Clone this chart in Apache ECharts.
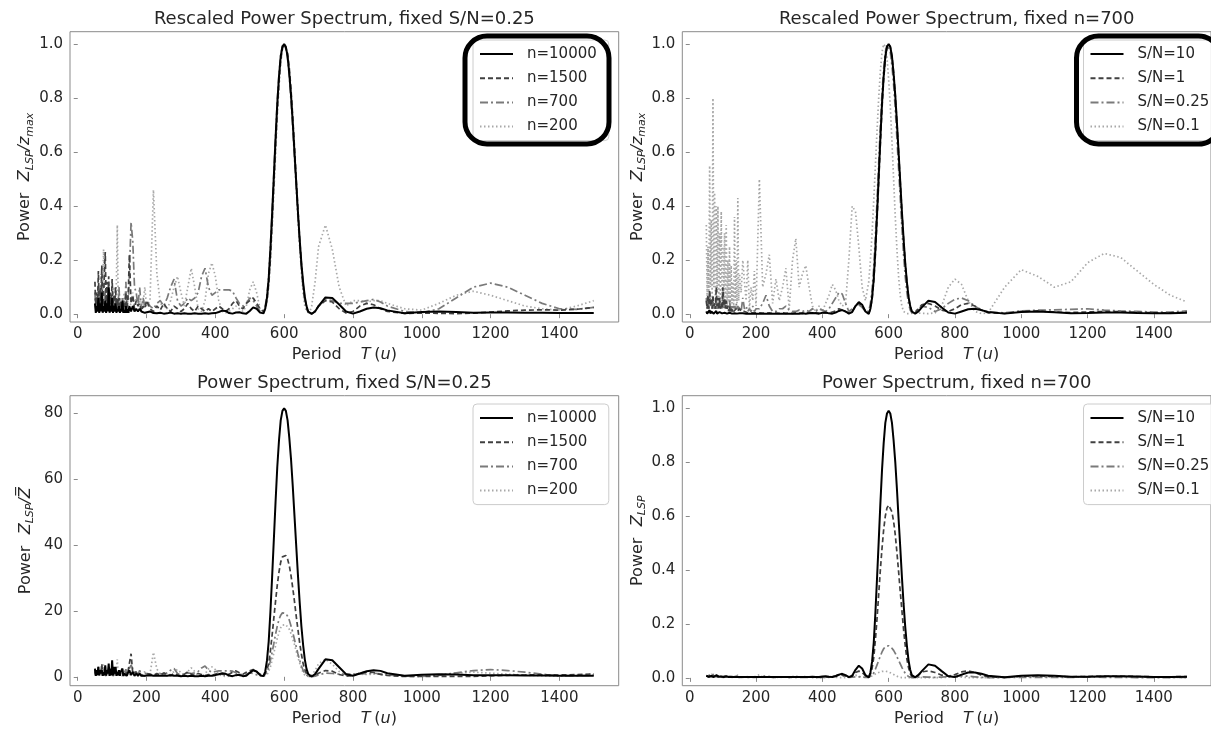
<!DOCTYPE html>
<html><head><meta charset="utf-8">
<script src="https://cdn.jsdelivr.net/npm/echarts@6/dist/echarts.min.js"></script>
<style>html,body{margin:0;padding:0;background:#fff}#c{width:1211px;height:730px}</style>
</head><body><div id="c"></div>
<script>
// ---------- data ----------
const periods = [
 50,52.5,55,57.5,60,62.5,65,67.5,70,72.5,75,77.5,80,82.5,85,87.5,90,92.5,95,97.5,100,102.5,105,107.5,110,112.5,115,117.5,120,122.5,125,127.5,130,132.5,135,137.5,140,142.5,145,147.5,150,
 155,160,165,170,175,180,185,190,195,200,
 210,220,230,240,250,260,270,280,290,300,310,320,330,340,350,360,370,380,390,400,410,420,430,440,450,460,470,480,490,500,
 510,520,530,540,
 545,550,555,560,565,570,575,580,585,590,595,600,605,610,615,620,625,630,635,640,645,650,655,660,665,670,675,
 680,690,700,720,740,760,780,800,820,840,860,880,900,
 950,1000,1050,1100,1150,1200,1250,1300,1350,1400,1450,1500];

const xTicks = [0,200,400,600,800,1000,1200,1400];
const yTicksUnit = [0,0.2,0.4,0.6,0.8,1.0];
const yTicksZbar = [0,20,40,60,80];
const namesN = ['n=10000','n=1500','n=700','n=200'];
const namesSN = ['S/N=10','S/N=1','S/N=0.25','S/N=0.1'];
const titles = ['Rescaled Power Spectrum, fixed S/N=0.25','Rescaled Power Spectrum, fixed n=700','Power Spectrum, fixed S/N=0.25','Power Spectrum, fixed n=700'];

// top-left: rescaled, fixed S/N=0.25
const tlN10000 = [
 0.04,0.005,0.03,0.01,0.06,0.005,0.04,0.01,0.08,0.005,0.03,0.01,0.05,0.005,0.04,0.01,0.10,0.005,0.03,0.01,0.06,0.005,0.03,0.01,0.04,0.005,0.02,0.01,0.03,0.005,0.02,0.01,0.05,0.005,0.015,0.005,0.03,0.005,0.02,0.005,0.03,
 0.01,0.03,0.01,0.02,0.01,0.02,0.01,0.015,0.005,0.01,
 0.010,0.004,0.003,0.005,0.002,0.003,0.006,0.002,0.003,0.002,0.003,0.002,0.002,0.003,0.002,0.002,0.003,0.002,0.003,0.004,0.008,0.013,0.012,0.004,0.002,0.006,0.007,0.003,0.002,0.012,
 0.025,0.020,0.006,0.003,
 0.02,0.06,0.13,0.24,0.37,0.51,0.65,0.78,0.88,0.955,0.99,1.0,0.99,0.955,0.89,0.81,0.71,0.60,0.49,0.38,0.28,0.19,0.12,0.065,0.03,0.01,0.003,
 0.001,0.010,0.030,0.062,0.060,0.036,0.010,0.002,0.010,0.020,0.025,0.022,0.014,
 0.003,0.008,0.010,0.008,0.005,0.006,0.006,0.005,0.005,0.004,0.004,0.004];
const tlN1500 = [
 0.12,0.02,0.08,0.03,0.16,0.02,0.10,0.05,0.18,0.02,0.06,0.15,0.23,0.03,0.12,0.04,0.14,0.02,0.08,0.03,0.13,0.02,0.07,0.03,0.10,0.02,0.06,0.02,0.06,0.02,0.05,0.02,0.05,0.01,0.04,0.02,0.08,0.02,0.04,0.10,0.22,
 0.04,0.07,0.02,0.05,0.03,0.04,0.01,0.03,0.02,0.05,
 0.02,0.01,0.03,0.015,0.04,0.02,0.01,0.03,0.02,0.01,0.02,0.04,0.02,0.01,0.03,0.02,0.01,0.02,0.01,0.02,0.03,0.02,0.01,0.02,0.04,0.05,0.03,0.02,0.04,0.05,
 0.06,0.04,0.02,0.01,
 0.02,0.05,0.11,0.21,0.34,0.48,0.62,0.75,0.86,0.94,0.985,1.0,0.995,0.965,0.91,0.83,0.73,0.62,0.50,0.39,0.28,0.19,0.11,0.06,0.025,0.008,0.003,
 0.002,0.010,0.030,0.050,0.045,0.020,0.004,0.010,0.030,0.040,0.035,0.020,0.010,
 0.003,0.004,0.003,0.002,0.004,0.008,0.012,0.015,0.016,0.015,0.018,0.025];
const tlN700 = [
 0.08,0.03,0.06,0.02,0.10,0.03,0.07,0.04,0.12,0.02,0.05,0.03,0.08,0.02,0.06,0.02,0.10,0.03,0.07,0.05,0.06,0.02,0.04,0.02,0.05,0.02,0.05,0.03,0.10,0.02,0.05,0.02,0.06,0.02,0.05,0.03,0.12,0.03,0.07,0.05,0.15,
 0.34,0.27,0.10,0.08,0.03,0.10,0.02,0.06,0.03,0.05,
 0.03,0.02,0.04,0.05,0.03,0.06,0.10,0.13,0.05,0.03,0.04,0.06,0.05,0.06,0.08,0.14,0.17,0.10,0.07,0.08,0.09,0.09,0.09,0.09,0.085,0.06,0.04,0.03,0.04,0.06,
 0.05,0.03,0.01,0.01,
 0.03,0.07,0.14,0.25,0.38,0.52,0.66,0.79,0.89,0.96,0.995,1.0,0.985,0.945,0.88,0.79,0.69,0.58,0.47,0.36,0.26,0.17,0.10,0.05,0.02,0.006,0.002,
 0.002,0.012,0.030,0.055,0.050,0.040,0.040,0.040,0.045,0.050,0.055,0.045,0.030,
 0.010,0.005,0.020,0.060,0.100,0.115,0.100,0.070,0.040,0.020,0.018,0.025];
const tlN200 = [
 0.05,0.08,0.02,0.06,0.10,0.03,0.06,0.15,0.12,0.05,0.24,0.10,0.08,0.03,0.03,0.06,0.08,0.03,0.02,0.07,0.05,0.08,0.10,0.03,0.04,0.12,0.33,0.05,0.10,0.03,0.06,0.02,0.02,0.05,0.08,0.02,0.03,0.04,0.05,0.02,0.02,
 0.04,0.08,0.03,0.06,0.04,0.05,0.02,0.04,0.10,0.03,
 0.05,0.46,0.15,0.04,0.03,0.02,0.05,0.10,0.14,0.08,0.03,0.10,0.17,0.10,0.02,0.01,0.05,0.15,0.19,0.14,0.05,0.01,0.005,0.01,0.02,0.03,0.02,0.01,0.03,0.09,
 0.12,0.08,0.02,0.01,
 0.01,0.04,0.10,0.19,0.31,0.45,0.59,0.73,0.84,0.93,0.98,1.0,0.99,0.96,0.90,0.82,0.72,0.61,0.49,0.37,0.26,0.16,0.08,0.03,0.01,0.005,0.01,
 0.03,0.12,0.25,0.33,0.24,0.10,0.03,0.05,0.05,0.045,0.05,0.05,0.04,
 0.02,0.015,0.04,0.07,0.085,0.07,0.05,0.03,0.02,0.015,0.03,0.05];

// top-right: rescaled, fixed n=700
const trSN10 = [
 0.010,0.002,0.008,0.003,0.015,0.002,0.010,0.004,0.010,0.002,0.006,0.003,0.012,0.002,0.006,0.003,0.008,0.002,0.005,0.003,0.010,0.002,0.005,0.002,0.006,0.002,0.004,0.002,0.005,0.002,0.004,0.002,0.004,0.002,0.003,0.002,0.004,0.002,0.003,0.002,0.003,
 0.002,0.003,0.002,0.002,0.002,0.002,0.002,0.002,0.002,0.002,
 0.002,0.002,0.002,0.002,0.002,0.002,0.002,0.002,0.002,0.002,0.002,0.002,0.002,0.003,0.002,0.003,0.004,0.003,0.002,0.005,0.006,0.003,0.002,0.006,0.012,0.015,0.010,0.002,0.008,0.030,
 0.045,0.035,0.010,0.001,
 0.02,0.06,0.13,0.24,0.37,0.51,0.65,0.78,0.88,0.955,0.99,1.0,0.99,0.955,0.89,0.81,0.71,0.60,0.49,0.38,0.28,0.19,0.12,0.065,0.03,0.01,0.003,
 0.002,0.010,0.025,0.050,0.045,0.025,0.006,0.002,0.010,0.018,0.020,0.015,0.008,
 0.002,0.008,0.010,0.007,0.003,0.004,0.006,0.006,0.004,0.003,0.003,0.005];
const trSN1 = [
 0.05,0.02,0.07,0.02,0.09,0.03,0.06,0.02,0.07,0.03,0.04,0.02,0.10,0.03,0.06,0.02,0.06,0.02,0.04,0.02,0.10,0.03,0.06,0.02,0.05,0.02,0.03,0.01,0.03,0.01,0.02,0.01,0.02,0.01,0.015,0.01,0.02,0.01,0.015,0.01,0.02,
 0.01,0.015,0.01,0.01,0.005,0.01,0.005,0.01,0.005,0.01,
 0.005,0.004,0.003,0.005,0.003,0.004,0.003,0.005,0.003,0.004,0.003,0.005,0.004,0.003,0.005,0.004,0.006,0.005,0.004,0.006,0.005,0.004,0.008,0.012,0.020,0.015,0.010,0.004,0.010,0.030,
 0.040,0.030,0.012,0.003,
 0.02,0.055,0.12,0.22,0.35,0.49,0.63,0.76,0.87,0.945,0.99,1.0,0.99,0.955,0.895,0.81,0.71,0.60,0.49,0.38,0.28,0.19,0.12,0.065,0.03,0.01,0.004,
 0.005,0.020,0.035,0.040,0.030,0.015,0.010,0.020,0.035,0.040,0.030,0.015,0.005,
 0.003,0.010,0.012,0.008,0.006,0.008,0.010,0.009,0.007,0.005,0.005,0.008];
const trSN025 = [
 0.06,0.02,0.04,0.02,0.08,0.03,0.05,0.02,0.05,0.02,0.04,0.02,0.07,0.02,0.04,0.02,0.05,0.03,0.04,0.02,0.08,0.02,0.05,0.02,0.04,0.02,0.03,0.02,0.05,0.01,0.03,0.01,0.03,0.02,0.03,0.02,0.04,0.02,0.03,0.02,0.03,
 0.01,0.06,0.02,0.03,0.01,0.02,0.01,0.03,0.01,0.02,
 0.02,0.04,0.07,0.03,0.01,0.01,0.02,0.02,0.03,0.015,0.01,0.01,0.015,0.01,0.015,0.01,0.02,0.01,0.02,0.015,0.01,0.02,0.04,0.06,0.08,0.075,0.04,0.01,0.02,0.03,
 0.035,0.025,0.010,0.010,
 0.04,0.09,0.17,0.29,0.42,0.56,0.70,0.82,0.91,0.97,0.998,0.995,0.97,0.92,0.85,0.76,0.65,0.54,0.43,0.32,0.22,0.14,0.08,0.04,0.015,0.005,0.003,
 0.010,0.020,0.030,0.025,0.010,0.020,0.040,0.055,0.060,0.050,0.030,0.015,0.008,
 0.005,0.012,0.015,0.016,0.018,0.020,0.015,0.012,0.010,0.008,0.008,0.012];
const trSN01 = [
 0.33,0.05,0.25,0.08,0.55,0.10,0.35,0.05,0.80,0.10,0.45,0.05,0.40,0.08,0.40,0.05,0.30,0.03,0.38,0.05,0.25,0.04,0.30,0.05,0.33,0.03,0.20,0.05,0.25,0.02,0.18,0.04,0.12,0.03,0.36,0.05,0.20,0.04,0.43,0.05,0.15,
 0.08,0.20,0.12,0.05,0.20,0.02,0.10,0.05,0.16,0.03,
 0.50,0.10,0.15,0.22,0.04,0.13,0.05,0.10,0.17,0.02,0.20,0.28,0.10,0.15,0.18,0.10,0.03,0.01,0.03,0.01,0.04,0.07,0.11,0.09,0.05,0.03,0.04,0.20,0.40,0.38,
 0.25,0.10,0.05,0.12,
 0.20,0.30,0.42,0.55,0.68,0.80,0.90,0.97,1.0,0.99,0.95,0.87,0.77,0.64,0.50,0.36,0.24,0.14,0.07,0.03,0.01,0.003,0.002,0.002,0.002,0.003,0.004,
 0.005,0.004,0.003,0.002,0.005,0.030,0.100,0.130,0.110,0.050,0.010,0.002,0.005,
 0.100,0.165,0.140,0.100,0.120,0.190,0.225,0.210,0.160,0.110,0.070,0.045];

// bottom-left: Z_LSP / mean Z, fixed S/N=0.25
const blN10000 = [
 2.5,0.3,2,0.5,3,0.4,2,1,2,0.3,1.5,0.5,3.5,0.4,2,1,4,0.3,2.5,0.5,5,0.4,3,1,3,0.3,1.5,0.5,2,0.3,1.5,1,2.5,0.3,1,0.5,1.5,0.3,1,0.5,2,
 0.5,1.5,0.3,1,0.3,1,0.3,0.8,0.3,0.6,
 0.5,0.3,0.4,0.3,0.3,0.3,0.5,0.3,0.3,0.2,0.3,0.2,0.3,0.2,0.2,0.3,0.2,0.3,0.3,0.5,0.8,1.1,0.9,0.4,0.2,0.5,0.6,0.2,0.3,1.2,
 2.0,1.6,0.5,0.2,
 1.6,4.9,10.6,19.6,30.2,41.6,53,63.6,71.7,77.8,80.7,81.5,80.7,77.8,72.5,66,57.9,48.9,39.9,31,22.8,15.5,9.8,5.3,2.4,0.8,0.3,
 0.1,0.8,2.4,5.3,5.0,2.9,0.8,0.3,1.0,1.7,2.0,1.8,1.1,
 0.3,0.6,0.8,0.7,0.5,0.5,0.5,0.4,0.4,0.3,0.3,0.3];
const blN1500 = [
 2,0.4,1.5,0.5,3,0.5,2,1,4,0.4,1,0.5,3,0.4,2,1,2.5,0.4,1.5,0.5,2,0.5,1.5,0.8,1.5,0.4,1,0.5,1.2,0.4,1,0.5,1,0.3,0.8,0.4,1.5,0.3,1,0.5,1.5,
 7,1,0.5,1.5,0.5,1,0.4,0.8,0.3,1,
 0.8,0.4,1,0.5,1.2,0.6,0.4,1,0.6,0.3,0.8,1.5,0.8,0.4,1,0.7,0.4,0.7,0.4,0.8,1,0.8,0.5,0.8,1.4,1.8,1.2,0.8,1.4,1.8,
 2.2,1.5,0.8,0.4,
 0.7,1.9,4.1,7.8,12.6,17.8,22.9,27.8,31.8,34.8,36.4,37,36.8,35.7,33.7,30.7,27,22.9,18.5,14.4,10.4,7,4.1,2.2,0.9,0.3,0.1,
 0.1,0.4,1.1,1.9,1.7,0.7,0.2,0.4,1.1,1.5,1.3,0.7,0.4,
 0.1,0.15,0.1,0.1,0.15,0.3,0.45,0.55,0.6,0.55,0.65,0.9];
const blN700 = [
 1.5,0.3,1,0.4,2,0.4,1.2,0.8,2.3,0.3,1,0.6,1.5,0.3,1,0.4,2,0.5,1.5,1,1.2,0.3,0.8,0.4,1,0.5,1.2,0.6,2,0.4,0.8,0.4,1.2,0.5,0.8,0.6,2.3,0.5,1.5,1,1.5,
 3.5,2.5,1,1.5,0.6,2,0.4,1.2,0.6,1,
 0.6,0.4,0.8,1,0.6,1.2,2,2.5,1,0.6,0.8,1.2,1,1.2,1.6,2.7,3.3,2,1.4,1.6,1.8,1.8,1.8,1.8,1.7,1.2,0.8,0.6,0.8,1.2,
 1,0.6,0.2,0.2,
 0.6,1.4,2.7,4.9,7.4,10.1,12.9,15.4,17.4,18.7,19.4,19.5,19.2,18.4,17.2,15.4,13.5,11.3,9.2,7,5.1,3.3,2,1,0.4,0.1,0.04,
 0.04,0.2,0.6,1.1,1,0.8,0.8,0.8,0.9,1,1.1,0.9,0.6,
 0.2,0.1,0.4,1.2,1.9,2.2,1.9,1.4,0.8,0.4,0.35,0.5];
const blN200 = [
 0.8,1.3,0.3,1,1.6,0.5,1,2.4,1.9,0.8,3.8,1.6,1.3,0.5,0.5,1,1.3,0.5,0.3,1.1,0.8,1.3,1.6,0.5,0.6,1.9,5.3,0.8,1.6,0.5,1,0.3,0.3,0.8,1.3,0.3,0.5,0.6,0.8,0.3,0.3,
 0.6,1.3,0.5,1,0.6,0.8,0.3,0.6,1.6,0.5,
 0.8,7.4,2.4,0.6,0.5,0.3,0.8,1.6,2.2,1.3,0.5,1.6,2.7,1.6,0.3,0.2,0.8,2.4,3,2.2,0.8,0.2,0.1,0.2,0.3,0.5,0.3,0.2,0.5,1.4,
 1.9,1.3,0.3,0.2,
 0.2,0.6,1.6,3,5,7.2,9.4,11.7,13.4,14.9,15.7,16,15.8,15.4,14.4,13.1,11.5,9.8,7.8,5.9,4.2,2.6,1.3,0.5,0.2,0.1,0.2,
 0.5,1.9,4,5.3,3.8,1.6,0.5,0.8,0.8,0.7,0.8,0.8,0.6,
 0.3,0.2,0.6,1.1,1.4,1.1,0.8,0.5,0.3,0.2,0.5,0.8];

// bottom-right: Z_LSP, fixed n=700
const brSN10 = [
 0.008,0.003,0.006,0.004,0.010,0.003,0.007,0.005,0.008,0.003,0.006,0.004,0.010,0.003,0.006,0.004,0.007,0.003,0.005,0.004,0.008,0.003,0.005,0.004,0.006,0.003,0.004,0.003,0.005,0.003,0.004,0.003,0.004,0.003,0.004,0.003,0.004,0.003,0.003,0.003,0.003,
 0.003,0.003,0.003,0.003,0.003,0.003,0.003,0.003,0.003,0.003,
 0.003,0.003,0.003,0.003,0.003,0.003,0.003,0.003,0.003,0.003,0.003,0.003,0.003,0.003,0.003,0.003,0.004,0.003,0.003,0.005,0.006,0.004,0.003,0.006,0.012,0.015,0.010,0.003,0.008,0.030,
 0.045,0.035,0.010,0.002,
 0.02,0.06,0.13,0.24,0.37,0.505,0.645,0.77,0.87,0.945,0.98,0.99,0.98,0.945,0.88,0.80,0.70,0.59,0.485,0.375,0.275,0.19,0.12,0.065,0.03,0.01,0.003,
 0.002,0.010,0.025,0.050,0.045,0.025,0.006,0.003,0.012,0.020,0.020,0.015,0.008,
 0.002,0.008,0.010,0.008,0.004,0.004,0.006,0.006,0.005,0.003,0.003,0.004];
const brSN1 = [
 0.008,0.003,0.006,0.004,0.012,0.003,0.008,0.005,0.010,0.003,0.006,0.004,0.012,0.003,0.007,0.005,0.008,0.003,0.006,0.004,0.010,0.003,0.006,0.004,0.007,0.003,0.005,0.003,0.005,0.003,0.004,0.003,0.004,0.003,0.004,0.003,0.004,0.003,0.004,0.003,0.004,
 0.003,0.003,0.003,0.003,0.003,0.003,0.003,0.003,0.003,0.003,
 0.003,0.003,0.003,0.003,0.003,0.003,0.003,0.003,0.003,0.003,0.003,0.003,0.003,0.003,0.003,0.003,0.003,0.003,0.003,0.003,0.004,0.004,0.005,0.008,0.012,0.010,0.007,0.003,0.006,0.020,
 0.025,0.020,0.008,0.002,
 0.013,0.035,0.075,0.14,0.22,0.31,0.40,0.48,0.55,0.60,0.63,0.64,0.635,0.615,0.58,0.53,0.465,0.395,0.32,0.25,0.18,0.12,0.07,0.038,0.016,0.005,0.002,
 0.004,0.012,0.022,0.026,0.020,0.010,0.006,0.012,0.022,0.026,0.020,0.010,0.004,
 0.002,0.006,0.008,0.006,0.004,0.005,0.006,0.006,0.005,0.004,0.004,0.005];
const brSN025 = [
 0.007,0.002,0.005,0.003,0.009,0.002,0.006,0.004,0.006,0.002,0.005,0.003,0.008,0.002,0.005,0.003,0.006,0.002,0.005,0.004,0.009,0.002,0.005,0.003,0.005,0.002,0.004,0.003,0.006,0.002,0.004,0.002,0.004,0.003,0.004,0.002,0.005,0.002,0.004,0.003,0.004,
 0.002,0.007,0.003,0.004,0.002,0.003,0.002,0.004,0.002,0.003,
 0.003,0.005,0.008,0.004,0.002,0.002,0.003,0.003,0.004,0.002,0.002,0.002,0.002,0.002,0.002,0.002,0.003,0.002,0.003,0.002,0.002,0.003,0.005,0.007,0.010,0.009,0.005,0.002,0.003,0.004,
 0.004,0.003,0.002,0.002,
 0.004,0.009,0.018,0.032,0.048,0.065,0.081,0.096,0.108,0.116,0.120,0.119,0.116,0.110,0.102,0.091,0.078,0.065,0.052,0.039,0.027,0.017,0.010,0.005,0.002,0.001,0.001,
 0.002,0.003,0.004,0.003,0.002,0.003,0.005,0.007,0.008,0.006,0.004,0.002,0.001,
 0.001,0.002,0.002,0.002,0.002,0.003,0.002,0.002,0.001,0.001,0.001,0.002];
const brSN01 = [
 0.008,0.001,0.006,0.002,0.014,0.0025,0.009,0.001,0.020,0.0025,0.011,0.001,0.010,0.002,0.010,0.001,0.0075,0.001,0.0095,0.001,0.006,0.001,0.0075,0.001,0.008,0.001,0.005,0.001,0.006,0.001,0.0045,0.001,0.003,0.001,0.009,0.001,0.005,0.001,0.011,0.001,0.004,
 0.002,0.005,0.003,0.001,0.005,0.001,0.003,0.001,0.004,0.001,
 0.012,0.003,0.004,0.006,0.001,0.003,0.001,0.003,0.004,0.001,0.005,0.007,0.003,0.004,0.005,0.003,0.001,0.001,0.001,0.001,0.001,0.002,0.003,0.002,0.001,0.001,0.001,0.005,0.010,0.010,
 0.006,0.003,0.001,0.003,
 0.005,0.0075,0.0105,0.014,0.017,0.020,0.0225,0.024,0.025,0.025,0.024,0.022,0.019,0.016,0.0125,0.009,0.006,0.0035,0.002,0.001,0.001,0.001,0.001,0.001,0.001,0.001,0.001,
 0.001,0.001,0.001,0.001,0.001,0.001,0.0025,0.003,0.003,0.001,0.001,0.001,0.001,
 0.0025,0.004,0.0035,0.0025,0.003,0.005,0.0055,0.005,0.004,0.003,0.002,0.001];

// ---------- layout / style ----------
const FONT = 'DejaVu Sans';
const TXT = '#262626';
const SPINE = '#8a8a8a';
const lineStyles = [
  {color:'#000000', width:2.0, type:'solid'},
  {color:'#404040', width:1.7, type:[5,3]},
  {color:'#7a7a7a', width:1.7, type:[8,3,2,3]},
  {color:'#a8a8a8', width:1.7, type:[1.5,2.5]}
];
const panels = [
  {grid:{left:70, top:31.7, width:548.7, height:290.3}, y:[-0.029,1.046], ticks:yTicksUnit, fmt:v=>v.toFixed(1), names:namesN, series:[tlN10000,tlN1500,tlN700,tlN200],
   yname:'{n|Power}   {i|Z}{s|LSP}{i|/z}{s|max}', legend:[473,40]},
  {grid:{left:682.3, top:31.7, width:548.8, height:290.3}, y:[-0.029,1.046], ticks:yTicksUnit, fmt:v=>v.toFixed(1), names:namesSN, series:[trSN10,trSN1,trSN025,trSN01],
   yname:'{n|Power}   {i|Z}{s|LSP}{i|/z}{s|max}', legend:[1083.5,40]},
  {grid:{left:70, top:395.7, width:548.7, height:290}, y:[-2.7,85.3], ticks:yTicksZbar, fmt:v=>String(v), names:namesN, series:[blN10000,blN1500,blN700,blN200],
   yname:'{n|Power}   {i|Z}{s|LSP}{i|/Z\u0305}', legend:[473,404]},
  {grid:{left:682.3, top:395.7, width:548.8, height:290}, y:[-0.029,1.046], ticks:yTicksUnit, fmt:v=>v.toFixed(1), names:namesSN, series:[brSN10,brSN1,brSN025,brSN01],
   yname:'{n|Power}   {i|Z}{s|LSP}', legend:[1083.5,404]}
];
const rich = {
  n:{fontFamily:FONT, fontSize:16, color:TXT, lineHeight:20},
  i:{fontFamily:FONT, fontSize:16, fontStyle:'italic', color:TXT, lineHeight:20},
  s:{fontFamily:FONT, fontSize:11, fontStyle:'italic', color:TXT, lineHeight:10, verticalAlign:'bottom'}
};

const option = {
  animation:false,
  textStyle:{fontFamily:FONT},
  grid:[], xAxis:[], yAxis:[], series:[], legend:[], graphic:[]
};
panels.forEach((p, k) => {
  option.grid.push(Object.assign({show:true, borderColor:SPINE, borderWidth:1, backgroundColor:'transparent'}, p.grid));
  option.xAxis.push({
    type:'value', gridIndex:k, min:-22.5, max:1572.5,
    axisLine:{show:false}, splitLine:{show:false},
    axisTick:{show:true, inside:false, length:4, lineStyle:{color:SPINE}, customValues:xTicks},
    axisLabel:{fontFamily:FONT, fontSize:15, color:TXT, margin:5, customValues:xTicks, formatter:v=>String(v)},
    name:'{n|Period}     {i|T} {n|(}{i|u}{n|)}', nameLocation:'middle', nameGap:23,
    nameTextStyle:{rich:rich}
  });
  option.yAxis.push({
    type:'value', gridIndex:k, min:p.y[0], max:p.y[1],
    axisLine:{show:false}, splitLine:{show:false},
    axisTick:{show:true, inside:false, length:4, lineStyle:{color:SPINE}, customValues:p.ticks},
    axisLabel:{fontFamily:FONT, fontSize:15, color:TXT, margin:7, customValues:p.ticks, formatter:p.fmt},
    name:p.yname, nameLocation:'middle', nameGap:34, nameRotate:90,
    nameTextStyle:{rich:rich}
  });
  p.series.forEach((vals, j) => {
    option.series.push({
      type:'line', name:p.names[j], xAxisIndex:k, yAxisIndex:k,
      data: periods.map((x, i) => [x, vals[i]]),
      symbol:'none', showSymbol:false, smooth:false, clip:true,
      lineStyle:Object.assign({}, lineStyles[j]), itemStyle:{color:lineStyles[j].color},
      z:6-j
    });
  });
  option.legend.push({
    orient:'vertical', left:p.legend[0], top:p.legend[1], data:p.names,
    itemWidth:33, itemHeight:16, itemGap:8.2, padding:[6,12,6,6],
    borderColor:'#cccccc', borderWidth:1, borderRadius:4, backgroundColor:'rgba(255,255,255,0.85)',
    textStyle:{fontFamily:FONT, fontSize:15, color:TXT, lineHeight:16, padding:[0,0,0,9]},
    itemStyle:{opacity:0}, selectedMode:false
  });
  const cx = p.grid.left + p.grid.width/2;
  option.graphic.push({
    type:'text', x:cx, y:p.grid.top - 12.5, z:50,
    style:{text:titles[k], font:'18px "DejaVu Sans"', fill:TXT, align:'center', verticalAlign:'middle', textAlign:'center', textVerticalAlign:'middle'}
  });
});
// thick rounded annotation frames round the two top legends
option.graphic.push({type:'rect', z:100, shape:{x:465, y:36, width:144, height:108, r:22}, style:{fill:'none', stroke:'#000', lineWidth:5}});
option.graphic.push({type:'rect', z:100, shape:{x:1076.5, y:36, width:144, height:108, r:22}, style:{fill:'none', stroke:'#000', lineWidth:5}});

const chart = echarts.init(document.getElementById('c'), null, {renderer:'canvas'});
chart.setOption(option);
</script></body></html>
